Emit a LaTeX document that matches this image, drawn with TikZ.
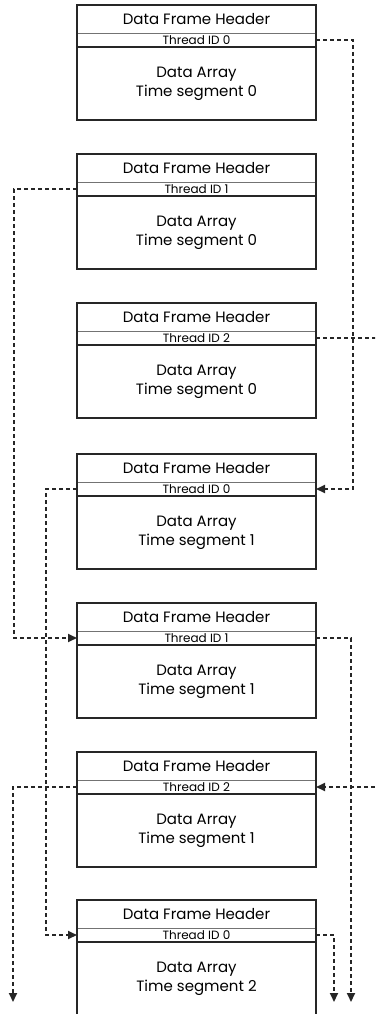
\documentclass[tikz,border=0pt]{standalone}
\usepackage{fontspec}
\setmainfont{Poppins}
\usetikzlibrary{positioning,arrows.meta}

\begin{document}
\begin{tikzpicture}[x=1pt,y=-1pt,
    cell/.style={draw=black!55,line width=0.8pt,minimum width=239pt,inner sep=0pt,outer sep=0pt,align=center},
    hdr/.style={cell,minimum height=28pt,font=\fontsize{15}{17}\selectfont},
    tid/.style={cell,minimum height=14pt,font=\fontsize{12}{13}\selectfont},
    arr/.style={cell,minimum height=73pt,font=\fontsize{15}{19}\selectfont},
    frame/.style={line width=2pt,black!85},
    link/.style={line width=1.8pt,black!85,dash pattern=on 4pt off 3pt},
    tip/.style={-{Triangle[width=8pt,length=9pt]}}]
    \useasboundingbox (0,0) rectangle (375,1014);
    \clip (0,0) rectangle (375,1014);

    % segment 0
    \node[hdr,anchor=north] (hdr1) at (196.5,5) {Data Frame Header};
    \node[tid,below=0pt of hdr1] (tid1) {Thread ID 0};
    \node[arr,below=0pt of tid1] (arr1) {Data Array\\Time segment 0};
    \draw[frame] (hdr1.north west) rectangle (arr1.south east);
    \draw[frame] (tid1.south west) -- (tid1.south east);

    \node[hdr,anchor=north] (hdr2) at (196.5,154) {Data Frame Header};
    \node[tid,below=0pt of hdr2] (tid2) {Thread ID 1};
    \node[arr,below=0pt of tid2] (arr2) {Data Array\\Time segment 0};
    \draw[frame] (hdr2.north west) rectangle (arr2.south east);
    \draw[frame] (tid2.south west) -- (tid2.south east);

    \node[hdr,anchor=north] (hdr3) at (196.5,303) {Data Frame Header};
    \node[tid,below=0pt of hdr3] (tid3) {Thread ID 2};
    \node[arr,below=0pt of tid3] (arr3) {Data Array\\Time segment 0};
    \draw[frame] (hdr3.north west) rectangle (arr3.south east);
    \draw[frame] (tid3.south west) -- (tid3.south east);

    % segment 1
    \node[hdr,anchor=north] (hdr4) at (196.5,454) {Data Frame Header};
    \node[tid,below=0pt of hdr4] (tid4) {Thread ID 0};
    \node[arr,below=0pt of tid4] (arr4) {Data Array\\Time segment 1};
    \draw[frame] (hdr4.north west) rectangle (arr4.south east);
    \draw[frame] (tid4.south west) -- (tid4.south east);

    \node[hdr,anchor=north] (hdr5) at (196.5,603) {Data Frame Header};
    \node[tid,below=0pt of hdr5] (tid5) {Thread ID 1};
    \node[arr,below=0pt of tid5] (arr5) {Data Array\\Time segment 1};
    \draw[frame] (hdr5.north west) rectangle (arr5.south east);
    \draw[frame] (tid5.south west) -- (tid5.south east);

    \node[hdr,anchor=north] (hdr6) at (196.5,752) {Data Frame Header};
    \node[tid,below=0pt of hdr6] (tid6) {Thread ID 2};
    \node[arr,below=0pt of tid6] (arr6) {Data Array\\Time segment 1};
    \draw[frame] (hdr6.north west) rectangle (arr6.south east);
    \draw[frame] (tid6.south west) -- (tid6.south east);

    % segment 2
    \node[hdr,anchor=north] (hdr7) at (196.5,900) {Data Frame Header};
    \node[tid,below=0pt of hdr7] (tid7) {Thread ID 0};
    \node[arr,below=0pt of tid7] (arr7) {Data Array\\Time segment 2};
    \draw[frame] (hdr7.north west) rectangle (arr7.south east);
    \draw[frame] (tid7.south west) -- (tid7.south east);

    % thread links
    \coordinate (out5) at (351,1002);
    \coordinate (out6) at (13,1002);
    \coordinate (out7) at (334,1002);
    \draw[link,tip] (tid1.east) -- ++(37,0) |- (tid4.east);
    \draw[link,tip] (tid2.west) -- ++(-63,0) |- (tid5.west);
    \draw[link,tip] (tid3.east) -- ++(64,0) |- (tid6.east);
    \draw[link,tip] (tid4.west) -- ++(-31,0) |- (tid7.west);
    \draw[link,tip] (tid5.east) -| (out5);
    \draw[link,tip] (tid6.west) -| (out6);
    \draw[link,tip] (tid7.east) -| (out7);
\end{tikzpicture}
\end{document}
